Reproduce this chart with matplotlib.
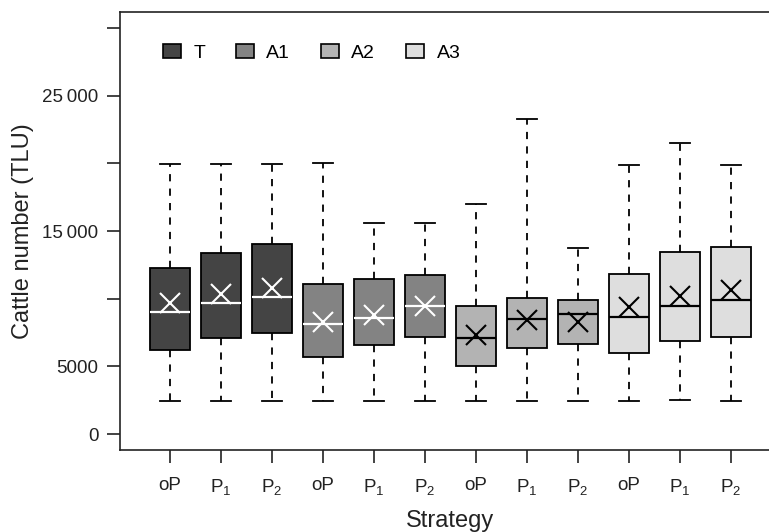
import matplotlib
matplotlib.use('Agg')
import matplotlib.pyplot as plt
from matplotlib.patches import Patch

plt.rcParams['font.family'] = ['Liberation Sans', 'DejaVu Sans']
plt.rcParams['mathtext.fontset'] = 'custom'
plt.rcParams['mathtext.rm'] = 'Liberation Sans'

# --- DATA ---
groups = ['T', 'A1', 'A2', 'A3']
group_colors = ['#444444', '#838383', '#b3b3b3', '#dedede']
inner_colors = ['white', 'white', 'black', 'black']
strategies = ['oP', r'P$_{\mathregular{1}}$', r'P$_{\mathregular{2}}$']

whis_hi = [19950, 19950, 19950, 20050, 15600, 15600, 17000, 23300, 13750, 19900, 21500, 19900]
q3 = [12250, 13350, 14080, 11070, 11490, 11780, 9490, 10060, 9910, 11830, 13480, 13850]
med = [9000, 9690, 10130, 8140, 8580, 9470, 7100, 8500, 8850, 8630, 9490, 9890]
q1 = [6190, 7100, 7450, 5720, 6600, 7170, 5030, 6360, 6680, 5970, 6860, 7200]
whis_lo = [2440, 2440, 2440, 2440, 2440, 2440, 2440, 2440, 2440, 2440, 2500, 2440]
means = [9670, 10350, 10800, 8310, 8820, 9490, 7300, 8430, 8310, 9370, 10210, 10630]

yticks = [0, 5000, 10000, 15000, 20000, 25000, 30000]
ytick_labels = ['0', '5000', '', '15\u2009000', '', '25\u2009000', '']

# --- FIGURE ---
W, H = 769, 532
fig = plt.figure(figsize=(W / 100, H / 100), dpi=100)
left, right, top, bottom = 120, 781, 11.9, 450.4
ax = fig.add_axes([left / W, 1 - bottom / H, (right - left) / W, (bottom - top) / H])

positions = list(range(1, 13))
stats = []
for i in range(12):
    stats.append({'med': med[i], 'q1': q1[i], 'q3': q3[i],
                  'whislo': whis_lo[i], 'whishi': whis_hi[i], 'fliers': []})

box_colors = [c for c in group_colors for _ in range(3)]
line_colors = [c for c in inner_colors for _ in range(3)]

bp = ax.bxp(stats, positions=positions, widths=0.8, patch_artist=True,
            showfliers=False,
            boxprops=dict(edgecolor='black', linewidth=1.3),
            whiskerprops=dict(color='black', linewidth=1.3, linestyle=(0, (4, 4))),
            capprops=dict(color='black', linewidth=1.3),
            medianprops=dict(linewidth=1.6))
for b, fc in zip(bp['boxes'], box_colors):
    b.set_facecolor(fc)
for m, lc in zip(bp['medians'], line_colors):
    m.set_color(lc)
for c in bp['caps']:
    x0, x1 = c.get_xdata()
    xc = (x0 + x1) / 2
    c.set_xdata([xc - 0.2, xc + 0.2])

# group means as crosses
for p, mval, lc in zip(positions, means, line_colors):
    ax.plot(p, mval, marker='x', markersize=15, markeredgewidth=1.5,
            color=lc, zorder=5)

ax.set_xlim(0.02, 12.98)
ax.set_ylim(-1200, 31200)
ax.set_xticks(positions)
ax.set_xticklabels(strategies * 4)
ax.set_yticks(yticks)
ax.set_yticklabels(ytick_labels)
ax.tick_params(axis='both', direction='out', length=9.5, width=1.2,
               labelsize=13.5, colors='#222222')
ax.tick_params(axis='y', pad=6)
ax.tick_params(axis='x', pad=10)
for s in ax.spines.values():
    s.set_linewidth(1.2)
    s.set_color('#222222')

ax.set_xlabel('Strategy', fontsize=17, labelpad=9, color='#222222')
ax.set_ylabel('Cattle number (TLU)', fontsize=17, labelpad=6, color='#222222')

handles = [Patch(facecolor=c, edgecolor='black', linewidth=1.2) for c in group_colors]
ax.legend(handles, groups, ncol=4, frameon=False, fontsize=14,
          loc='center left', bbox_to_anchor=((163 - left) / (right - left), (bottom - 53) / (bottom - top)),
          borderpad=0, borderaxespad=0, handlelength=0.9, handleheight=0.7,
          handletextpad=0.65, columnspacing=1.6)

fig.savefig('out.png', dpi=100)
